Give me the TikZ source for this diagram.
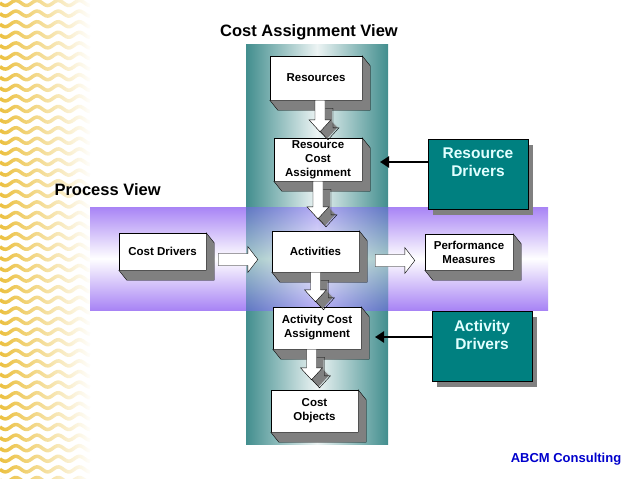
\documentclass[tikz,border=0pt]{standalone}
\usepackage{fontspec}
\setmainfont{Liberation Sans}
\usetikzlibrary{arrows.meta, calc, shadows, fadings, positioning}

\definecolor{bandteal}{RGB}{66,142,142}
\definecolor{bandpurple}{RGB}{168,132,245}
\definecolor{drvteal}{RGB}{0,128,128}
\definecolor{drvtext}{RGB}{225,255,255}
\definecolor{wavegold}{RGB}{236,192,62}
\definecolor{extgray}{RGB}{128,128,128}
\definecolor{abcmblue}{RGB}{0,0,204}

\tikzfading[name=goldfade, left color=transparent!0, right color=transparent!100]

\tikzset{
  viewbox/.style={draw=black, thin, fill=white, align=center, inner sep=2pt,
    font=\fontsize{11.5}{14}\selectfont\bfseries},
  driverbox/.style={draw=black, thin, fill=drvteal, text=drvtext, align=center,
    minimum width=100pt, minimum height=70pt,
    font=\fontsize{15.5}{18}\selectfont\bfseries,
    drop shadow={shadow xshift=5pt, shadow yshift=-5pt, fill=extgray, opacity=1}},
  viewtitle/.style={font=\fontsize{16.5}{20}\selectfont\bfseries},
  driverarrow/.style={-{Triangle[length=9pt,width=11pt]}, line width=2.5pt}
}

% gray extrusion under and right of a box
\newcommand{\boxdepth}[1]{%
  \filldraw[fill=extgray, draw=black, thin] (#1.north east) -- ++(8,10)
    -- ($(#1.south east)+(8,10)$) -- ($(#1.south west)+(8,10)$)
    -- (#1.south west) -- (#1.south east) -- cycle;}

% hollow arrow pointing down, with its extrusion
\newcommand{\downshape}{let \p1=(s), \p2=(s|-t) in
  (\x1-5pt,\y1) -- (\x1-5pt,\y2+12pt) -- (\x1-11pt,\y2+12pt) -- (\x1,\y2)
  -- (\x1+11pt,\y2+12pt) -- (\x1+5pt,\y2+12pt) -- (\x1+5pt,\y1) -- cycle}
\newcommand{\blockdown}[4]{%
  \coordinate (s) at ($(#1.south)+(#3,0)$);
  \coordinate (t) at ($(#2.north)+(0,-#4)$);
  \foreach \k in {1,...,7}
    \fill[extgray, transform canvas={xshift=\k pt, yshift=-\k pt}] \downshape;
  \draw[black, thin, transform canvas={xshift=8pt, yshift=-8pt}] \downshape;
  \filldraw[fill=white, draw=black, thin] \downshape;}

% hollow arrow pointing right
\newcommand{\rightshape}{let \p1=(s), \p2=(t) in
  (\x1,\y1+6pt) -- (\x2-10pt,\y1+6pt) -- (\x2-10pt,\y1+13pt) -- (\x2,\y1)
  -- (\x2-10pt,\y1-13pt) -- (\x2-10pt,\y1-6pt) -- (\x1,\y1-6pt) -- cycle}
\newcommand{\blockright}[4]{%
  \coordinate (s) at ($(#1.east)+#3$);
  \coordinate (t) at ($(#2.west)+#4$);
  \filldraw[fill=white, draw=black, thin] \rightshape;}

\begin{document}
\begin{tikzpicture}[x=1pt, y=-1pt]
  \useasboundingbox (0,0) rectangle (638,479);
  \fill[white] (0,0) rectangle (638,479);

  % gold waves on the left edge
  \foreach \i in {0,...,45}
    \draw[wavegold, line width=3.5pt, path fading=goldfade]
      plot[domain=0:90, samples=50, smooth] (\x, {\i*10.6 + 3 + 2.5*sin(17*\x)});

  % the two views
  \shade[top color=bandpurple, bottom color=bandpurple, middle color=white]
    (90,207) rectangle (548,310);
  \shade[left color=bandteal, right color=bandteal, middle color=white!90!bandteal]
    (246,44) rectangle (388,444);
  \shade[top color=bandpurple!75!blue, bottom color=bandpurple!75!blue,
    middle color=white, fill opacity=0.5] (246,207) rectangle (388,310);

  \node[viewtitle] (cavtitle) at (309,32) {Cost Assignment View};
  \node[viewtitle, anchor=west] (pvtitle) at (51,190) {Process View};

  % boxes
  \node[viewbox, minimum width=92pt, minimum height=44pt] (res) at (316,78) {Resources};
  \node[viewbox, minimum width=88pt, minimum height=43pt] (rca) at (318,159.5) {Resource\\Cost\\Assignment};
  \node[viewbox, minimum width=87pt, minimum height=41pt] (act) at (315.5,251.5) {Activities};
  \node[viewbox, minimum width=88pt, minimum height=42pt] (aca) at (317,328) {Activity Cost\\Assignment};
  \node[viewbox, minimum width=87pt, minimum height=42pt] (obj) at (314.5,411) {Cost\\Objects};
  \node[viewbox, minimum width=87pt, minimum height=37pt] (drv) at (162.5,251.5) {Cost Drivers};
  \node[viewbox, minimum width=88pt, minimum height=36pt] (pm) at (469,252) {Performance\\Measures};
  \foreach \b in {res,rca,act,aca,obj,drv,pm} \boxdepth{\b};

  \node[driverbox] (rd) at (478,174.5) {Resource\\Drivers\\[6pt]\mbox{}};
  \node[driverbox] (ad) at (482,346.5) {Activity\\Drivers\\[6pt]\mbox{}};

  % arrows
  \blockdown{res}{rca}{4}{6}
  \blockdown{rca}{act}{0}{12}
  \blockdown{act}{aca}{0}{5}
  \blockdown{aca}{obj}{-5.5}{10}
  \blockright{drv}{act}{(12,8)}{(-14,8)}
  \blockright{act}{pm}{(16,9)}{(-10,8.5)}

  \coordinate (rdtip) at (380,162);
  \coordinate (adtip) at (375,337);
  \draw[driverarrow] (rd.west |- rdtip) -- (rdtip);
  \draw[driverarrow] (ad.west |- adtip) -- (adtip);

  \node[font=\fontsize{13}{15}\selectfont\bfseries, text=abcmblue] (abcm) at (566,459) {ABCM Consulting};
\end{tikzpicture}
\end{document}
